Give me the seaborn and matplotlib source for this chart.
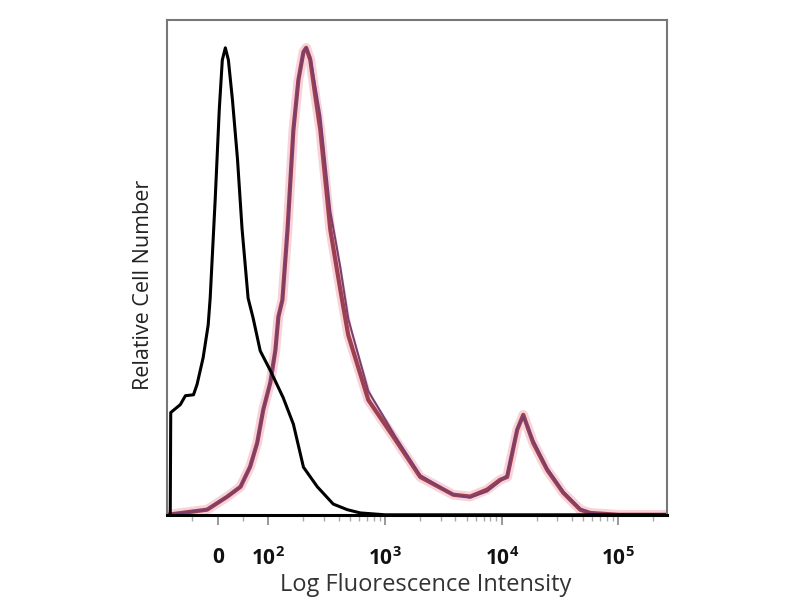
import matplotlib
matplotlib.use('Agg')
import matplotlib.pyplot as plt
import seaborn as sns
import numpy as np
import pandas as pd
from matplotlib.ticker import FixedLocator

# Histogram outlines (x = fluorescence intensity, y = % of max)
black_x = [-94, -93, -74, -64, -48, -41, -29, -19, -15, -5, 3, 9, 15, 21, 29, 39, 48, 60, 70, 84,
           104, 134, 164, 200, 263, 360, 475, 614, 1000, 10000, 100000, 262144]
black_y = [0, 21.9, 23.6, 25.5, 25.7, 27.9, 33.6, 40.6, 46.4, 67.7, 86.8, 97.4, 100, 97.4, 88.9, 76.2, 61.3, 46.4, 42.1, 35.1,
           30.9, 25.1, 19.4, 10.2, 6.0, 2.3, 1.1, 0.4, 0, 0, 0, 0]

red_x = [-100, -21, 19, 45, 64, 78, 90, 104, 115, 122, 132, 146, 164, 181, 200, 211, 229, 252, 279, 340,
         414, 484, 719, 1225, 2004, 3846, 5370, 7500, 9700, 11140, 13580, 15310, 18620, 24550, 33730, 47100,
         57410, 100000, 262144]
red_y = [0, 1.1, 3.9, 6.0, 10.3, 15.4, 22.5, 28.3, 35.3, 42.4, 46.0, 61.0, 82.4, 93.1, 99.1, 100, 97.4, 89.9, 82.4, 61.0,
         48.2, 38.5, 24.6, 16.1, 8.1, 4.3, 3.9, 5.4, 7.5, 8.1, 18.2, 21.4, 15.4, 9.6, 4.7, 1.1,
         0.4, 0, 0]
purple_y = [0, 1.1, 3.9, 6.0, 10.3, 15.4, 22.5, 28.3, 35.3, 42.4, 46.0, 61.0, 82.4, 93.1, 99.1, 100, 98.0, 92.0, 85.5, 65.0,
            53.0, 42.0, 26.5, 16.8, 8.5, 4.3, 3.7, 5.0, 7.2, 8.5, 18.5, 21.0, 16.0, 10.0, 5.0, 1.3,
            0.4, 0, 0]

tick_pos = [0, 100, 1000, 10000, 100000]
tick_labels = ['0', r'$\mathbf{10^{2}}$', r'$\mathbf{10^{3}}$', r'$\mathbf{10^{4}}$', r'$\mathbf{10^{5}}$']

sns.set_style('white')
plt.rcParams['font.family'] = ['Open Sans', 'DejaVu Sans']
plt.rcParams['mathtext.fontset'] = 'custom'
plt.rcParams['mathtext.rm'] = 'Open Sans'
plt.rcParams['mathtext.bf'] = 'Open Sans:bold'

fig = plt.figure(figsize=(8, 6), dpi=100)
ax = fig.add_axes([0.209, 0.142, 0.625, 0.825])

black_df = pd.DataFrame({'x': black_x, 'y': black_y})
red_df = pd.DataFrame({'x': red_x, 'y': red_y})
purple_df = pd.DataFrame({'x': red_x, 'y': purple_y})

# pinkish halo under the stained sample
sns.lineplot(data=red_df, x='x', y='y', ax=ax, sort=False, estimator=None, color='#f2b6c0', linewidth=7, alpha=0.6)
sns.lineplot(data=red_df, x='x', y='y', ax=ax, sort=False, estimator=None, color='#9e3f4f', linewidth=3)
sns.lineplot(data=purple_df, x='x', y='y', ax=ax, sort=False, estimator=None, color='#7a3f6e', linewidth=1.5)
sns.lineplot(data=black_df, x='x', y='y', ax=ax, sort=False, estimator=None, color='black', linewidth=2.2)

ax.set_xscale('symlog', linthresh=100, linscale=0.39)
ax.set_xlim(-100, 262144)
ax.set_ylim(0, 106)

ax.xaxis.set_major_locator(FixedLocator(tick_pos))
ax.set_xticklabels(tick_labels, fontsize=15, fontweight='bold', color='#111111')
minors = [-50, 50] + [m * 10 ** k for k in (2, 3, 4) for m in range(2, 10)] + [200000]
ax.xaxis.set_minor_locator(FixedLocator(minors))
ax.tick_params(axis='x', which='both', bottom=True)
ax.tick_params(axis='x', which='major', direction='out', length=7, width=1.2, color='#888888', pad=16)
ax.tick_params(axis='x', which='minor', direction='out', length=4, width=1, color='#aaaaaa')
ax.set_yticks([])

for side in ['top', 'right', 'left']:
    ax.spines[side].set_color('#777777')
    ax.spines[side].set_linewidth(1.5)
ax.spines['bottom'].set_color('black')
ax.spines['bottom'].set_linewidth(2.2)

ax.set_xlabel('Log Fluorescence Intensity', fontsize=17, color='#333333')
ax.xaxis.set_label_coords(0.516, -0.118)
ax.set_ylabel('Relative Cell Number', fontsize=15.5, color='#222222')
ax.yaxis.set_label_coords(-0.026, 0.465)

plt.savefig('out.png', dpi=100)
